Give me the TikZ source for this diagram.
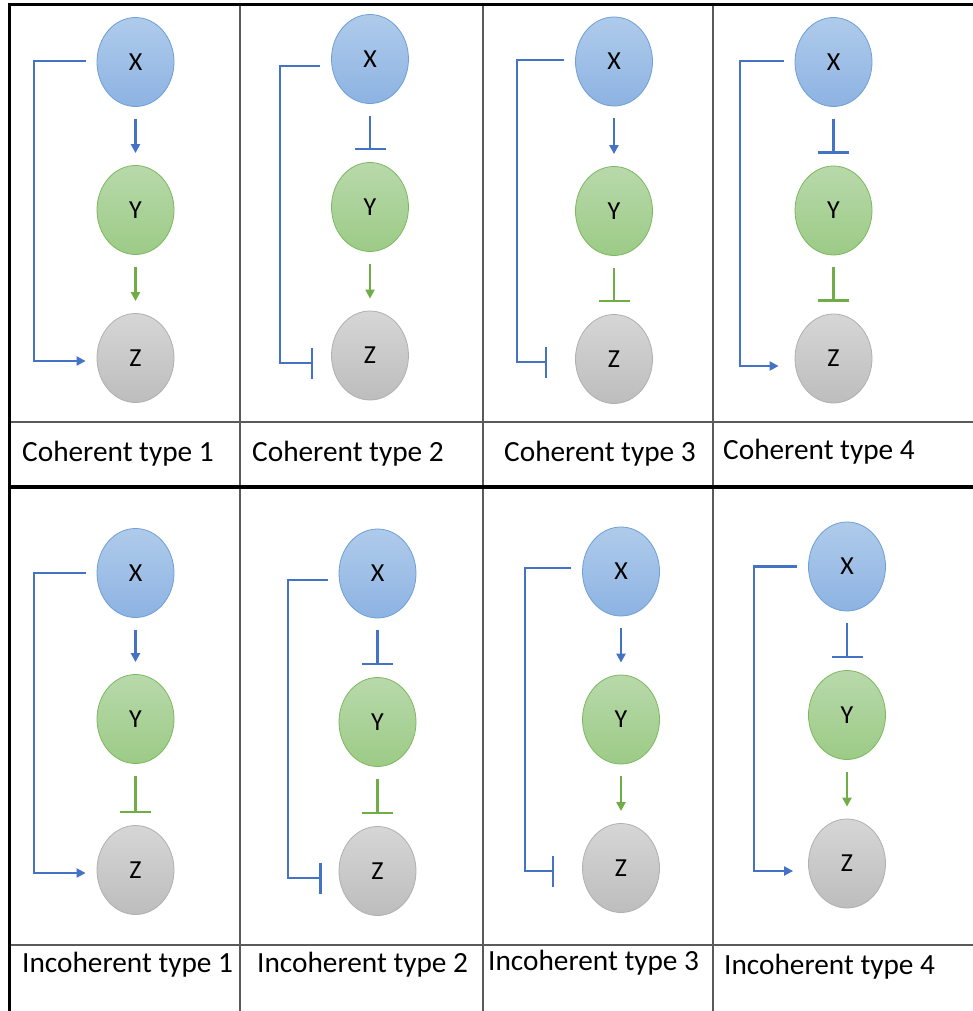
\documentclass[tikz,border=0pt]{standalone}
\usepackage{fontspec}
\setmainfont{Carlito}
\usetikzlibrary{shapes.geometric,arrows.meta}
\definecolor{bX1}{HTML}{AFCBEB}
\definecolor{bX2}{HTML}{8DB3E2}
\definecolor{bXd}{HTML}{6E9FD6}
\definecolor{gY1}{HTML}{B8D9AB}
\definecolor{gY2}{HTML}{9CCB86}
\definecolor{gYd}{HTML}{7DB85F}
\definecolor{zZ1}{HTML}{D6D6D6}
\definecolor{zZ2}{HTML}{BDBDBD}
\definecolor{zZd}{HTML}{B0B0B0}
\definecolor{lblue}{HTML}{4472C4}
\definecolor{lgreen}{HTML}{70AD47}
\definecolor{gridgray}{HTML}{5A5A5A}
\tikzset{
  gene/.style={ellipse, minimum width=77pt, minimum height=89pt, inner sep=0pt, line width=0.8pt,
    font=\fontsize{26}{29}\selectfont, text=black},
  genex/.style={gene, draw=bXd, top color=bX1, bottom color=bX2},
  geney/.style={gene, draw=gYd, top color=gY1, bottom color=gY2},
  genez/.style={gene, draw=zZd, top color=zZ1, bottom color=zZ2},
  act/.style={line width=2.2pt, -{Triangle[width=9pt,length=9pt]}},
  inh/.style={line width=2.2pt, -{Bar[width=31pt]}},
  vert/.style={shorten <=12pt, shorten >=12pt},
  fbline/.style={line width=2.2pt, shorten <=11pt},
  lbl/.style={anchor=west, inner sep=0pt, font=\fontsize{29.3}{33}\selectfont, text=black},
  thickrule/.style={line width=3.2pt, black},
  thinrule/.style={line width=1.4pt, gridgray}
}
\begin{document}
\begin{tikzpicture}[x=1pt,y=-1pt]
\useasboundingbox (0,0) rectangle (973,1011);
% grid
\draw[thinrule] (9.5,422) -- (973,422);
\draw[thinrule] (9.5,945) -- (973,945);
\draw[thinrule] (240,4.5) -- (240,1011);
\draw[thinrule] (483,4.5) -- (483,1011);
\draw[thinrule] (713,4.5) -- (713,1011);
\draw[thickrule] (8,4.5) -- (973,4.5);
\draw[thickrule] (9.5,3) -- (9.5,1011);
\draw[thickrule] (9.5,487) -- (973,487);

% ---- Coherent type 1
\node[genex] (X1) at (135.5,62) {X};
\node[geney] (Y1) at (135.5,210) {Y};
\node[genez] (Z1) at (135.5,358) {Z};
\draw[act,vert,lblue] (X1) -- (Y1);
\draw[act,vert,lgreen] (Y1) -- (Z1);
\draw[act,fbline,lblue,shorten >=11pt] ([yshift=1pt]X1.west) -- ++(-63pt,0) |- ([yshift=-3pt]Z1.west);
\node[lbl] (L1) at (22,454) {Coherent type 1};

% ---- Coherent type 2
\node[genex] (X2) at (370,59) {X};
\node[geney] (Y2) at (370,207) {Y};
\node[genez] (Z2) at (370,355.5) {Z};
\draw[inh,vert,lblue] (X2) -- (Y2);
\draw[act,vert,lgreen] (Y2) -- (Z2);
\draw[inh,fbline,lblue,shorten >=18pt] ([yshift=-7pt]X2.west) -- ++(-51pt,0) |- ([yshift=-7.5pt]Z2.west);
\node[lbl] (L2) at (252,454) {Coherent type 2};

% ---- Coherent type 3
\node[genex] (X3) at (614,61.5) {X};
\node[geney] (Y3) at (614,211) {Y};
\node[genez] (Z3) at (614,359) {Z};
\draw[act,vert,lblue] (X3) -- (Y3);
\draw[inh,vert,lgreen] (Y3) -- (Z3);
\draw[inh,fbline,lblue,shorten >=28pt] ([yshift=1.5pt]X3.west) -- ++(-58pt,0) |- ([yshift=-3pt]Z3.west);
\node[lbl] (L3) at (504,454) {Coherent type 3};

% ---- Coherent type 4
\node[genex] (X4) at (833.5,62) {X};
\node[geney] (Y4) at (833.5,210.5) {Y};
\node[genez] (Z4) at (833.5,358.5) {Z};
\draw[inh,vert,lblue] (X4) -- (Y4);
\draw[inh,vert,lgreen] (Y4) -- (Z4);
\draw[act,fbline,lblue,shorten >=16pt] ([yshift=1pt]X4.west) -- ++(-55pt,0) |- ([yshift=-7.5pt]Z4.west);
\node[lbl] (L4) at (723,452) {Coherent type 4};

% ---- Incoherent type 1
\node[genex] (X5) at (135.5,573) {X};
\node[geney] (Y5) at (135.5,719) {Y};
\node[genez] (Z5) at (135.5,870) {Z};
\draw[act,vert,lblue] (X5) -- (Y5);
\draw[inh,vert,lgreen] (Y5) -- (Z5);
\draw[act,fbline,lblue,shorten >=11pt] (X5.west) -- ++(-63pt,0) |- ([yshift=-3pt]Z5.west);
\node[lbl] (L5) at (22,965) {Incoherent type 1};

% ---- Incoherent type 2
\node[genex] (X6) at (377.5,573.5) {X};
\node[geney] (Y6) at (377.5,722) {Y};
\node[genez] (Z6) at (377.5,871) {Z};
\draw[inh,vert,lblue] (X6) -- (Y6);
\draw[inh,vert,lgreen] (Y6) -- (Z6);
\draw[inh,fbline,lblue,shorten >=17pt] ([yshift=-6.5pt]X6.west) -- ++(-51pt,0) |- ([yshift=-7pt]Z6.west);
\node[lbl] (L6) at (257,965) {Incoherent type 2};

% ---- Incoherent type 3
\node[genex] (X7) at (621,571.5) {X};
\node[geney] (Y7) at (621,719.5) {Y};
\node[genez] (Z7) at (621,868) {Z};
\draw[act,vert,lblue] (X7) -- (Y7);
\draw[act,vert,lgreen] (Y7) -- (Z7);
\draw[inh,fbline,lblue,shorten >=28pt] ([yshift=3.5pt]X7.west) -- ++(-57pt,0) |- ([yshift=-3pt]Z7.west);
\node[lbl] (L7) at (488,963) {Incoherent type 3};

% ---- Incoherent type 4
\node[genex] (X8) at (847,566.5) {X};
\node[geney] (Y8) at (847,715) {Y};
\node[genez] (Z8) at (847,863.5) {Z};
\draw[inh,vert,lblue] (X8) -- (Y8);
\draw[act,vert,lgreen] (Y8) -- (Z8);
\draw[act,fbline,lblue,shorten >=15pt] (X8.west) -- ++(-54pt,0) |- ([yshift=-7.5pt]Z8.west);
\node[lbl] (L8) at (724,967) {Incoherent type 4};
\end{tikzpicture}
\end{document}
